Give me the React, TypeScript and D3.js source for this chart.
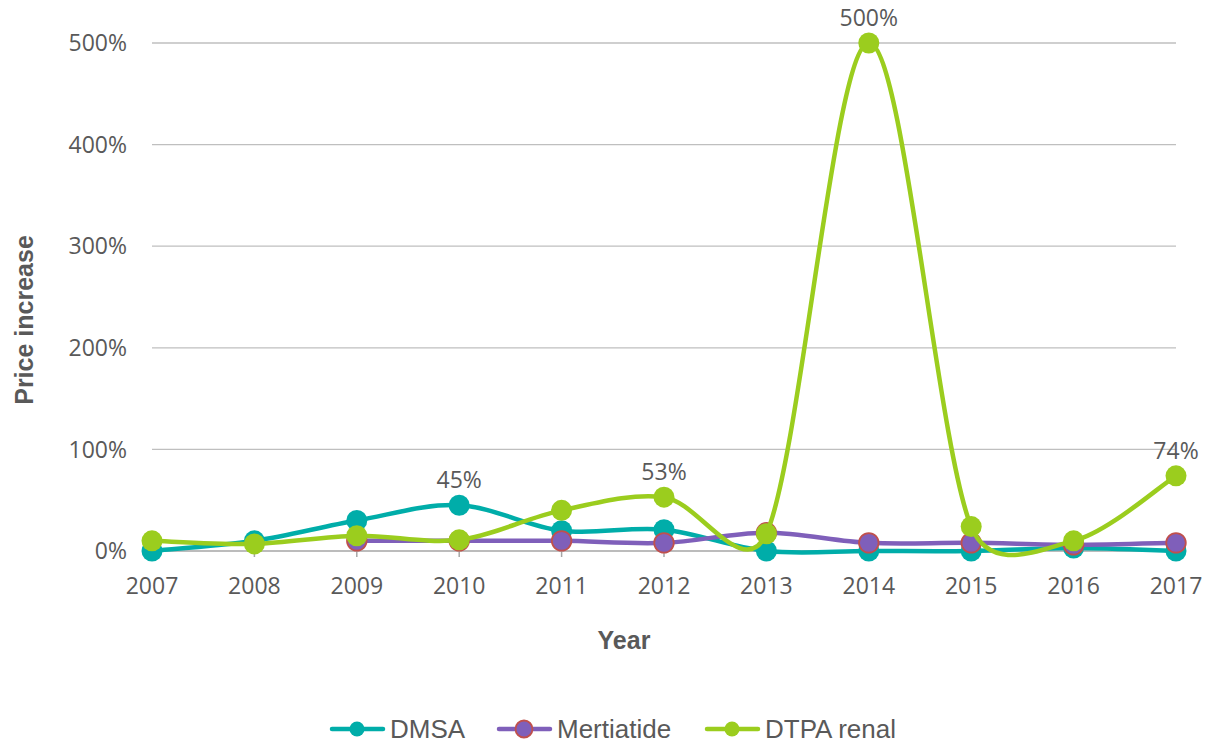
import React from "react";
import * as d3 from "d3";

const years = ["2007","2008","2009","2010","2011","2012","2013","2014","2015","2016","2017"];
const dmsa: (number|null)[] = [0, 10, 30, 45, 20, 21, 0, 0, 0, 3, 0];
const mertiatide: (number|null)[] = [null, null, 10, 10, 10, 8, 18, 8, 8, 6, 8];
const dtpa: (number|null)[] = [10, 7, 15, 11, 40, 53, 17, 500, 24, 10, 74];
const yTicks = [0, 100, 200, 300, 400, 500];
const pointLabels = [
  { series: "DMSA", year: "2010", value: 45 },
  { series: "DTPA renal", year: "2012", value: 53 },
  { series: "DTPA renal", year: "2014", value: 500 },
  { series: "DTPA renal", year: "2017", value: 74 },
];

const series = [
  { name: "DMSA", values: dmsa, color: "#00ADA9", stroke: "#00ADA9" },
  { name: "Mertiatide", values: mertiatide, color: "#7F5FBA", stroke: "#C0504D" },
  { name: "DTPA renal", values: dtpa, color: "#9BCD1E", stroke: "#9BCD1E" },
];

// Excel-like smoothed line: Catmull-Rom bezier with control arm clamped to half the segment length
function smoothPath(pts: [number, number][]): string {
  const p = d3.path();
  if (!pts.length) return "";
  p.moveTo(pts[0][0], pts[0][1]);
  const n = pts.length;
  const tangent = (i: number): [number, number] => {
    const a = pts[Math.max(0, i - 1)], b = pts[Math.min(n - 1, i + 1)];
    return [(b[0] - a[0]) / 6, (b[1] - a[1]) / 6];
  };
  const clamp = (t: [number, number], len: number): [number, number] => {
    const l = Math.hypot(t[0], t[1]);
    const m = len / 2;
    if (l > m && l > 0) return [t[0] * m / l, t[1] * m / l];
    return t;
  };
  for (let i = 0; i < n - 1; i++) {
    const a = pts[i], b = pts[i + 1];
    const seg = Math.hypot(b[0] - a[0], b[1] - a[1]);
    const t1 = clamp(tangent(i), seg);
    const t2 = clamp(tangent(i + 1), seg);
    p.bezierCurveTo(a[0] + t1[0], a[1] + t1[1], b[0] - t2[0], b[1] - t2[1], b[0], b[1]);
  }
  return p.toString();
}

export default function App() {
  const W = 1211, H = 745;
  const x = d3.scalePoint().domain(years).range([152, 1176]);
  const y = d3.scaleLinear().domain([0, 500]).range([551, 43]);
  const legendX = [330, 497, 705];
  return (
    <svg width={W} height={H} style={{ position: "absolute", left: 0, top: 0 }}>
      <rect width={W} height={H} fill="#fff" />
      {yTicks.map(t => (
        <g key={t}>
          {t > 0 && <line x1={152} x2={1176} y1={y(t)} y2={y(t)} stroke="#BFBFBF" strokeWidth={1.3} />}
          <text x={127} y={y(t)} dy="0.36em" textAnchor="end" fontFamily="Open Sans" fontSize={23} fill="#595959">{t}%</text>
        </g>
      ))}
      <line x1={152} x2={1176} y1={y(0)} y2={y(0)} stroke="#A6A6A6" strokeWidth={1.5} />
      {years.map(yr => (
        <g key={yr}>
          <line x1={x(yr)} x2={x(yr)} y1={551} y2={557} stroke="#A6A6A6" strokeWidth={1.5} />
          <text x={x(yr)} y={586} dy="0.36em" textAnchor="middle" fontFamily="Open Sans" fontSize={23} fill="#595959">{yr}</text>
        </g>
      ))}
      <text x={624} y={649} textAnchor="middle" fontFamily="Liberation Sans" fontWeight="bold" fontSize={25} fill="#595959">Year</text>
      <text transform="translate(33,320) rotate(-90)" textAnchor="middle" fontFamily="Liberation Sans" fontWeight="bold" fontSize={25} fill="#595959">Price increase</text>
      {series.map(s => {
        const pts: [number, number][] = years
          .map((yr, i) => [yr, s.values[i]] as [string, number | null])
          .filter(d => d[1] !== null)
          .map(d => [x(d[0])!, y(d[1] as number)]);
        return (
          <g key={s.name}>
            <path d={smoothPath(pts)} fill="none" stroke={s.color} strokeWidth={4.5} strokeLinejoin="round" strokeLinecap="round" />
            {years.map((yr, i) => s.values[i] !== null && (
              <circle key={yr} cx={x(yr)} cy={y(s.values[i] as number)} r={s.name === "Mertiatide" ? 9.8 : 10.5} fill={s.color} stroke={s.stroke} strokeWidth={s.name === "Mertiatide" ? 1.8 : 0} />
            ))}
          </g>
        );
      })}
      {pointLabels.map(p => (
        <text key={p.series + p.year} x={x(p.year)} y={y(p.value) - 17} textAnchor="middle" fontFamily="Open Sans" fontSize={23} fill="#595959">{p.value}%</text>
      ))}
      {series.map((s, i) => (
        <g key={s.name} transform={`translate(${legendX[i]},729)`}>
          <line x1={2} x2={53} y1={0} y2={0} stroke={s.color} strokeWidth={4.5} strokeLinecap="round" />
          <circle cx={27} cy={0} r={s.name === "Mertiatide" ? 8.5 : 7.5} fill={s.color} stroke={s.stroke} strokeWidth={s.name === "Mertiatide" ? 1.8 : 0} />
          <text x={60} y={0} dy="0.36em" fontFamily="Liberation Sans" fontSize={26} fill="#595959">{s.name}</text>
        </g>
      ))}
    </svg>
  );
}
